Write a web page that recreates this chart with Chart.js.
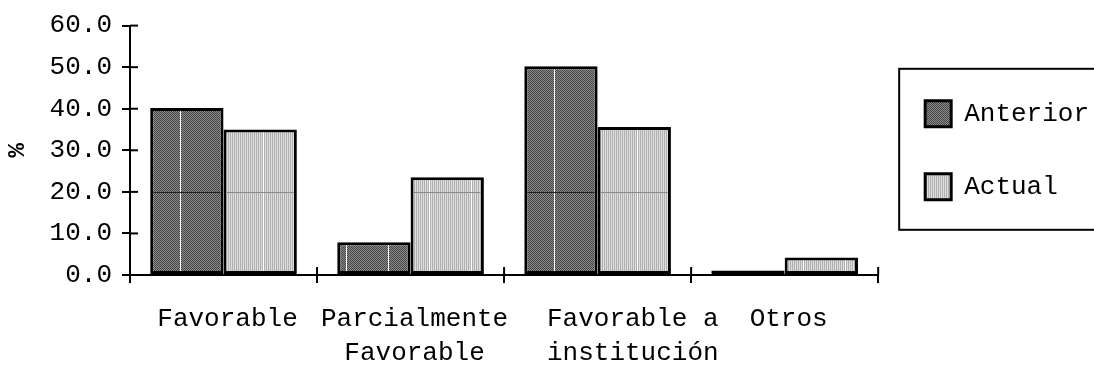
<!DOCTYPE html>
<html>
<head>
<meta charset="utf-8">
<script src="https://cdn.jsdelivr.net/npm/chart.js@4"></script>
<style>
  html, body { margin: 0; padding: 0; background: #fff; }
  #wrap { width: 1094px; height: 366px; }
</style>
</head>
<body>
<div id="wrap"><canvas id="chart"></canvas></div>
<script>
const categories = [
    ['Favorable'],
    ['Parcialmente', 'Favorable'],
    ['    Favorable a', '    institución'],
    ['Otros']
];
const anterior = [40.2, 7.9, 50.2, 1.1];
const actual = [35.0, 23.5, 35.6, 4.2];
const yTicks = [0, 10, 20, 30, 40, 50, 60];

const FONT = 'Liberation Mono, Courier New, monospace';

// relleno con trama, como el original
function trama(colores, w, h) {
    const c = document.createElement('canvas');
    c.width = w; c.height = h;
    const g = c.getContext('2d');
    for (let y = 0; y < h; y++) {
        for (let x = 0; x < w; x++) {
            g.fillStyle = colores(x, y);
            g.fillRect(x, y, 1, 1);
        }
    }
    return g.createPattern(c, 'repeat');
}
const oscuro = trama((x, y) => ((x + y) % 2 ? '#8c8c8c' : '#444444'), 2, 2);
const claro = trama((x, y) => (x % 2 ? '#dedede' : '#b0b0b0'), 2, 2);

// marcas de eje que cruzan el eje, lineas de la rejilla sobre las barras
const extras = {
    id: 'extras',
    afterDatasetsDraw(chart) {
        const ctx = chart.ctx;
        const y = chart.scales.y;
        const area = chart.chartArea;
        const y20 = y.getPixelForValue(20);
        const paso = y.getPixelForValue(0) - y.getPixelForValue(10);
        ctx.save();
        ctx.lineWidth = 1;
        chart.data.datasets.forEach((ds, i) => {
            chart.getDatasetMeta(i).data.forEach((bar, j) => {
                const x0 = bar.x - bar.width / 2 + 3, x1 = bar.x + bar.width / 2 - 3;
                const top = bar.y + 3, bottom = bar.base - 3;
                if (bottom <= top) return;
                // rejilla vertical blanca
                ctx.strokeStyle = '#fff';
                for (let gx = area.left + 50; gx < area.right; gx += paso) {
                    if (gx > x0 && gx < x1) {
                        ctx.beginPath();
                        ctx.moveTo(Math.round(gx) + 0.5, top);
                        ctx.lineTo(Math.round(gx) + 0.5, bottom);
                        ctx.stroke();
                    }
                }
                if (ds.data[j] > 20) {
                    ctx.strokeStyle = i === 0 ? '#222' : '#8a8a8a';
                    ctx.beginPath();
                    ctx.moveTo(x0, Math.round(y20) + 0.5);
                    ctx.lineTo(x1, Math.round(y20) + 0.5);
                    ctx.stroke();
                }
            });
        });
        ctx.restore();
    },
    afterDraw(chart) {
        const ctx = chart.ctx;
        const y = chart.scales.y;
        const area = chart.chartArea;
        ctx.save();
        ctx.strokeStyle = '#000';
        ctx.lineWidth = 2;
        yTicks.forEach(v => {
            const py = y.getPixelForValue(v);
            ctx.beginPath();
            ctx.moveTo(area.left, py);
            ctx.lineTo(area.left + 8, py);
            ctx.stroke();
        });
        const n = categories.length;
        for (let k = 0; k <= n; k++) {
            const px = area.left + (area.right - area.left) * k / n;
            ctx.beginPath();
            ctx.moveTo(px, area.bottom);
            ctx.lineTo(px, area.bottom - 8);
            ctx.stroke();
        }
        // marco de la leyenda
        const lg = chart.legend;
        const hb = lg.legendHitBoxes;
        if (hb && hb.length) {
            const t = hb[0].top - 32;
            const b = hb[hb.length - 1].top + hb[hb.length - 1].height + 30;
            ctx.strokeRect(lg.left + 21, t, 400, b - t);
        }
        ctx.restore();
    }
};

new Chart(document.getElementById('chart'), {
    type: 'bar',
    data: {
        labels: categories,
        datasets: [{
            label: 'Anterior',
            data: anterior,
            backgroundColor: oscuro,
            borderColor: '#000',
            borderWidth: 3,
            borderSkipped: false
        }, {
            label: 'Actual',
            data: actual,
            backgroundColor: claro,
            borderColor: '#000',
            borderWidth: 3,
            borderSkipped: false
        }]
    },
    options: {
        responsive: true,
        maintainAspectRatio: false,
        animation: false,
        layout: { padding: { top: 16, right: -5, left: 0, bottom: 0 } },
        datasets: { bar: { barPercentage: 1, categoryPercentage: 0.784 } },
        plugins: {
            legend: {
                position: 'right',
                fullSize: false,
                align: 'center',
                labels: {
                    font: { family: FONT, size: 26 },
                    color: '#000',
                    boxWidth: 26,
                    boxHeight: 26,
                    padding: 47
                }
            },
            tooltip: { enabled: false }
        },
        scales: {
            x: {
                grid: { display: true, drawOnChartArea: false, offset: true, tickLength: 8, color: '#000', lineWidth: 2 },
                border: { color: '#000', width: 2 },
                ticks: {
                    font: { family: FONT, size: 26, lineHeight: 1.3 },
                    color: '#000',
                    padding: 19,
                    labelOffset: 4,
                    maxRotation: 0,
                    autoSkip: false
                },
                afterFit(scale) { scale.height = 91; }
            },
            y: {
                min: 0,
                max: 60,
                afterBuildTicks(scale) { scale.ticks = yTicks.map(v => ({ value: v })); },
                grid: { display: true, drawOnChartArea: false, tickLength: 8, color: '#000', lineWidth: 2 },
                border: { color: '#000', width: 2 },
                ticks: {
                    font: { family: FONT, size: 26 },
                    color: '#000',
                    padding: 10,
                    callback: v => v.toFixed(1)
                },
                title: {
                    display: true,
                    text: '%',
                    font: { family: FONT, size: 24, weight: 'bold' },
                    color: '#000',
                    padding: { top: 4, bottom: 0 }
                },
                afterFit(scale) { scale.width = 130; }
            }
        }
    },
    plugins: [extras]
});
</script>
</body>
</html>
